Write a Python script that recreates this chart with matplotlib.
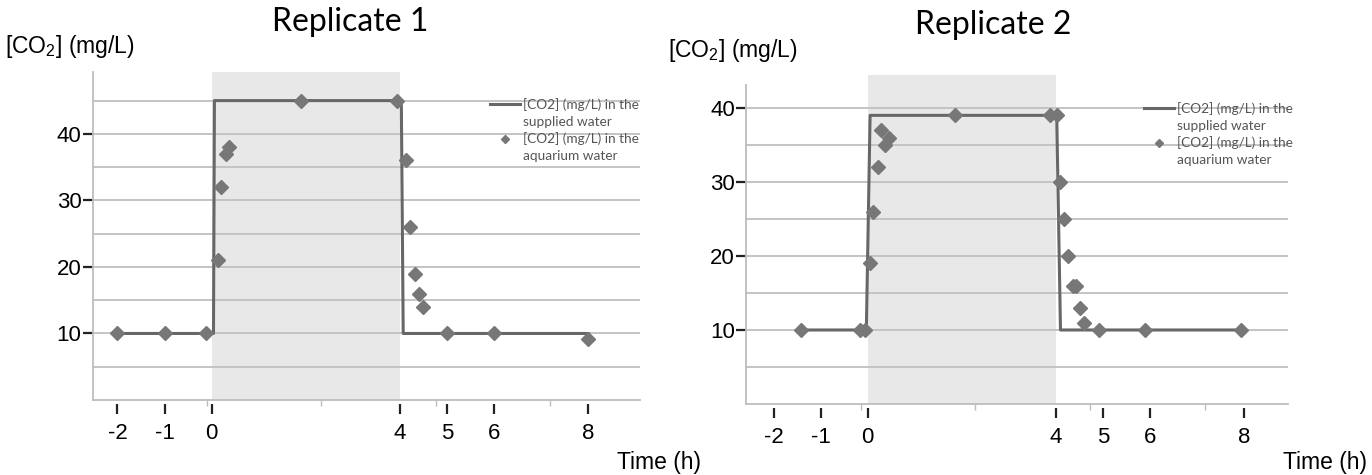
import matplotlib.pyplot as plt
from matplotlib.lines import Line2D

ARIAL = 'Liberation Sans'
CALIBRI = 'Lato'
plt.rcParams['axes.unicode_minus'] = False
plt.rcParams['mathtext.fontset'] = 'custom'
plt.rcParams['mathtext.rm'] = ARIAL

# Replicate 1
r1_line_t = [-2, 0.04, 0.06, 4.03, 4.07, 8]
r1_line_co2 = [10, 10, 45, 45, 10, 10]
r1_t = [-2, -1, -0.11, 0.13, 0.21, 0.30, 0.38, 1.9, 3.93, 4.13, 4.22, 4.31, 4.40, 4.48, 5, 6, 8]
r1_co2 = [10, 10, 10, 21, 32, 37, 38, 45, 45, 36, 26, 19, 16, 14, 10, 10, 9.2]

# Replicate 2
r2_line_t = [-1.4, -0.03, 0.05, 4.02, 4.1, 8]
r2_line_co2 = [10, 10, 39, 39, 10, 10]
r2_t = [-1.42, -0.16, -0.05, 0.04, 0.12, 0.21, 0.28, 0.37, 0.46, 1.86, 3.87, 4.02,
        4.08, 4.18, 4.26, 4.36, 4.43, 4.52, 4.6, 4.91, 5.9, 7.93]
r2_co2 = [10, 10, 10, 19, 26, 32, 37, 35, 36, 39, 39, 39,
          30, 25, 20, 16, 16, 13, 11, 10, 10, 10]

time_ticks = [-2, -1, 0, 4, 5, 6, 8]
co2_ticks = [10, 20, 30, 40]
line_label = '[CO2] (mg/L) in the'
line_label2 = 'supplied water'
dot_label = '[CO2] (mg/L) in the'
dot_label2 = 'aquarium water'

W, H = 1372, 475
LINE_C = '#676767'
DOT_C = '#777777'
GRID_C = '#c4c4c4'
SHADE_C = '#e8e8e8'
TICK_FS = 16

fig = plt.figure(figsize=(W / 100, H / 100), dpi=100)


def setup(ax, line_t, line_co2, t, co2, xlim, ytop, minor_x, shade_top):
    ax.axvspan(0, 4, ymin=0, ymax=shade_top, color=SHADE_C, lw=0, zorder=0, clip_on=False)
    ax.plot(line_t, line_co2, color=LINE_C, lw=2.2, zorder=3)
    ax.plot(t, co2, linestyle='none', marker='D', ms=7, color=DOT_C, zorder=4)
    ax.set_xlim(*xlim)
    ax.set_ylim(0, ytop)
    ax.set_facecolor('none')
    for s in ['top', 'right']:
        ax.spines[s].set_visible(False)
    for s in ['left', 'bottom']:
        ax.spines[s].set_color('#bdbdbd')
        ax.spines[s].set_linewidth(1.3)
    ax.set_yticks(co2_ticks)
    ax.set_yticks(list(range(5, int(ytop) + 1, 5)), minor=True)
    ax.yaxis.grid(True, which='both', color=GRID_C, lw=1.4, zorder=1)
    ax.set_axisbelow(True)
    ax.tick_params(axis='y', which='major', length=7, width=1.6, color='#222222',
                   labelsize=TICK_FS, pad=1)
    ax.tick_params(axis='y', which='minor', length=0)
    for lab in ax.get_yticklabels():
        lab.set_fontfamily(ARIAL)
    # faint excel ticks on the axis line
    ax.set_xticks([])
    ax.set_xticks(minor_x, minor=True)
    ax.tick_params(axis='x', which='minor', length=4, width=1, color='#bdbdbd')
    # dark time ticks, slightly detached from the axis line
    sec = ax.secondary_xaxis(-0.012)
    sec.set_xticks(time_ticks)
    sec.spines['bottom'].set_visible(False)
    sec.tick_params(length=7, width=1.6, color='#222222', labelsize=TICK_FS, pad=7)
    for lab in sec.get_xticklabels():
        lab.set_fontfamily(ARIAL)

    handles = [Line2D([], [], color=LINE_C, lw=2.2),
               Line2D([], [], linestyle='none'),
               Line2D([], [], linestyle='none', marker='D', ms=4.5, color=DOT_C),
               Line2D([], [], linestyle='none')]
    labels = [line_label, line_label2, dot_label, dot_label2]
    return handles, labels


ax1 = fig.add_axes([92.5 / W, 1 - 400 / H, (640 - 92.5) / W, 328 / H])
h, l = setup(ax1, r1_line_t, r1_line_co2, r1_t, r1_co2, (-2.53, 9.1), 49.3,
             [-0.1, 2.33, 4.76, 7.18], 1.0)
ax1.legend(h, l, loc='upper left', bbox_to_anchor=(483 / W, 1 - 91 / H),
           bbox_transform=fig.transFigure, frameon=False, borderpad=0,
           handlelength=2.2, handletextpad=0.25, labelspacing=0.35,
           prop={'family': CALIBRI, 'size': 9.8}, labelcolor='#555555')

ax2 = fig.add_axes([746 / W, 1 - 404 / H, (1288 - 746) / W, 319 / H])
h, l = setup(ax2, r2_line_t, r2_line_co2, r2_t, r2_co2, (-2.59, 8.94), 43.1,
             [-0.14, 2.28, 4.72, 7.17], 1.03)
ax2.legend(h, l, loc='upper left', bbox_to_anchor=(1137 / W, 1 - 95 / H),
           bbox_transform=fig.transFigure, frameon=False, borderpad=0,
           handlelength=2.2, handletextpad=0.25, labelspacing=0.35,
           prop={'family': CALIBRI, 'size': 9.8}, labelcolor='#555555')

fig.text(350 / W, 1 - 22 / H, 'Replicate 1', family=CALIBRI, fontsize=23,
         ha='center', va='center')
fig.text(993 / W, 1 - 25 / H, 'Replicate 2', family=CALIBRI, fontsize=23,
         ha='center', va='center')
fig.text(5 / W, 1 - 47 / H, '[CO$_2$] (mg/L)', family=ARIAL, fontsize=16.5,
         ha='left', va='center')
fig.text(668 / W, 1 - 50 / H, '[CO$_2$] (mg/L)', family=ARIAL, fontsize=16.5,
         ha='left', va='center')
fig.text(701 / W, 1 - 463 / H, 'Time (h)', family=ARIAL, fontsize=16.5,
         ha='right', va='center')
fig.text(1367 / W, 1 - 462 / H, 'Time (h)', family=ARIAL, fontsize=16.5,
         ha='right', va='center')

fig.savefig('out.png', dpi=100)
